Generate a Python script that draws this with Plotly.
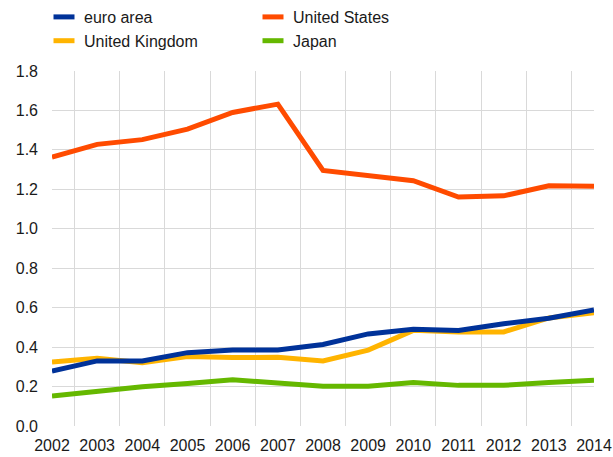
import plotly.graph_objects as go

years = [str(y) for y in range(2002, 2015)]

euro_area = [0.278, 0.330, 0.330, 0.372, 0.385, 0.385, 0.413, 0.467, 0.490, 0.484, 0.518, 0.546, 0.588]
united_states = [1.363, 1.428, 1.452, 1.505, 1.590, 1.632, 1.296, 1.272, 1.244, 1.161, 1.167, 1.218, 1.215]
united_kingdom = [0.324, 0.344, 0.321, 0.352, 0.347, 0.348, 0.330, 0.385, 0.485, 0.477, 0.477, 0.548, 0.574]
japan = [0.152, 0.177, 0.199, 0.215, 0.234, 0.218, 0.201, 0.201, 0.221, 0.206, 0.206, 0.220, 0.232]

y_ticks = [0.0, 0.2, 0.4, 0.6, 0.8, 1.0, 1.2, 1.4, 1.6, 1.8]

series = [
    ("euro area", euro_area, "#003299"),
    ("United States", united_states, "#FF4B00"),
    ("United Kingdom", united_kingdom, "#FFB400"),
    ("Japan", japan, "#65B800"),
]

fig = go.Figure()

# data lines (drawn in reverse so euro area sits on top)
for name, values, color in reversed(series):
    fig.add_trace(go.Scatter(
        x=years, y=values, mode="lines", name=name,
        line=dict(color=color, width=5), showlegend=False,
    ))

# legend keys: short thick dashes
for name, values, color in series:
    fig.add_trace(go.Scatter(
        x=[None], y=[None], mode="markers", name=name,
        marker=dict(symbol="line-ew", size=15, color=color,
                    line=dict(color=color, width=5)),
    ))

fig.update_layout(
    width=613, height=457,
    margin=dict(l=52, r=1, t=71, b=31),
    paper_bgcolor="white", plot_bgcolor="white",
    font=dict(family="Liberation Sans, Arial, sans-serif", size=16, color="#1a1a1a"),
    legend=dict(
        orientation="h", x=44 / 613, xanchor="left", y=1.0, yanchor="top",
        xref="container", yref="container",
        entrywidth=164, entrywidthmode="pixels",
        font=dict(size=16), bgcolor="rgba(0,0,0,0)",
    ),
    xaxis=dict(
        type="category", tickson="boundaries", showgrid=True,
        gridcolor="#d9d9d9", gridwidth=1, ticks="", zeroline=False,
        tickfont=dict(size=16), ticklabelstandoff=8,
    ),
    yaxis=dict(
        range=[0, 1.8], tickvals=y_ticks, ticktext=[f"{v:.1f}" for v in y_ticks],
        showgrid=True, gridcolor="#d9d9d9", gridwidth=1, zeroline=False,
        ticks="", tickfont=dict(size=16), ticklabelstandoff=13,
    ),
)

fig.write_html("out.html")
